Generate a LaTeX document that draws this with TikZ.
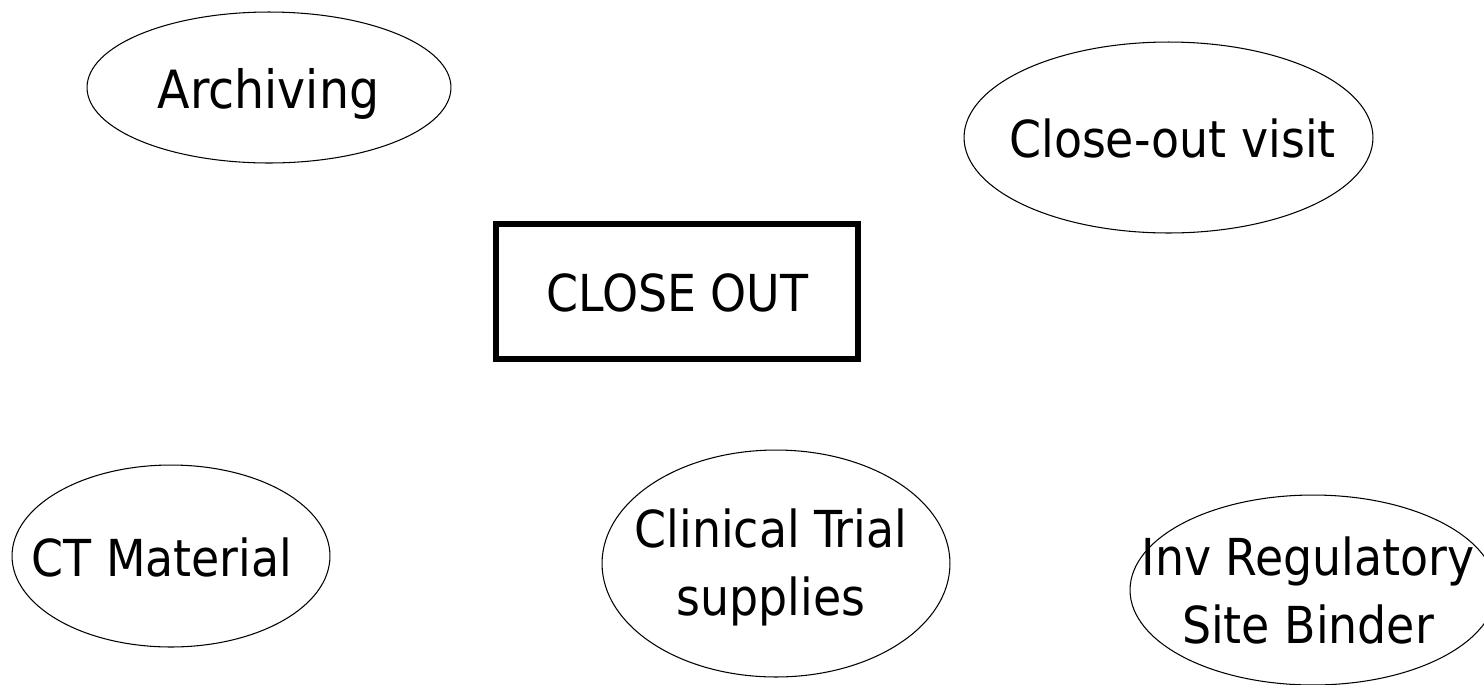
\documentclass[tikz,border=0pt]{standalone}
\usepackage{fontspec}
\setmainfont{DejaVu Sans Condensed}
\usepackage{tikz}
\usetikzlibrary{shapes.geometric,positioning}

\begin{document}
\begin{tikzpicture}[
    x=0.02cm, y=-0.02cm,
    topic/.style={draw, ellipse, line width=0.6pt, inner sep=0pt},
    phase/.style={draw, rectangle, line width=3.4pt, inner sep=0pt},
    word/.style={font=\fontsize{29}{38.7}\selectfont, align=center, inner sep=0pt, anchor=base}
]
    % Page frame (same size as the reference)
    \useasboundingbox (0,0) rectangle (1484,684);
    \clip (0,0) rectangle (1484,684);

    % The central phase box
    \node[phase, minimum width=7.24cm, minimum height=2.70cm] (close_out) at (677,291.5) {};
    \node[word] (close_out_text) at (677.5,311) {CLOSE OUT};

    % Top row
    \node[topic, minimum width=7.28cm, minimum height=3.02cm] (archiving) at (269,87.5) {};
    \node[word, font=\fontsize{30}{38.7}\selectfont] (archiving_text) at (268.5,108) {Archiving};

    \node[topic, minimum width=8.18cm, minimum height=3.82cm] (visit) at (1168.5,137.5) {};
    \node[word] (visit_text) at (1172.5,157) {Close-out visit};

    % Bottom row (base anchor = last line)
    \node[topic, minimum width=6.36cm, minimum height=3.64cm] (ct_material) at (171,556) {};
    \node[word] (ct_material_text) at (162,576) {CT Material};

    \node[topic, minimum width=6.96cm, minimum height=4.54cm] (supplies) at (776,563.5) {};
    \node[word] (supplies_text) at (771,615) {Clinical Trial\\supplies};

    \node[topic, minimum width=7.32cm, minimum height=3.80cm] (binder) at (1313,590) {};
    \node[word] (binder_text) at (1308,643) {Inv Regulatory\\Site Binder};

\end{tikzpicture}
\end{document}
